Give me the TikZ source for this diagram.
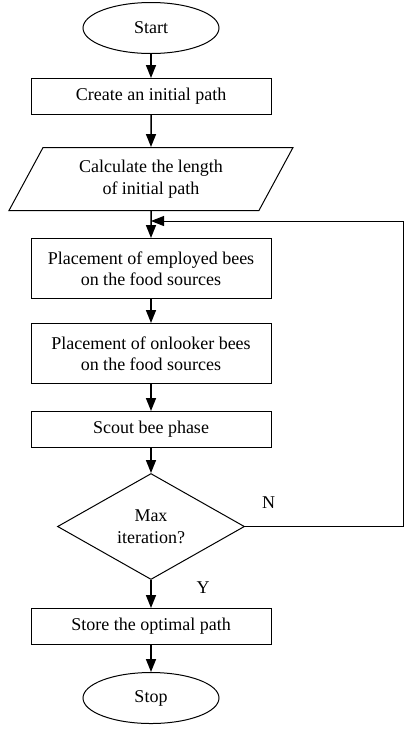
\documentclass[tikz,border=0pt]{standalone}
\usepackage{fontspec}
\setmainfont{Liberation Serif}
\usetikzlibrary{arrows.meta, positioning, shapes.geometric}

\begin{document}
\begin{tikzpicture}[
    x = 1pt, y = -1pt,
    node distance = 27pt,
    every node/.style = {font = \fontsize{18}{21.5}\selectfont},
    box/.style = {
      rectangle, draw, line width = 1pt,
      minimum width = 240pt, minimum height = 36pt,
      inner sep = 2pt, align = center
    },
    tallbox/.style = {box, minimum height = 60pt},
    term/.style = {
      ellipse, draw, line width = 1pt,
      minimum width = 136pt, minimum height = 51pt, inner sep = 0pt
    },
    io/.style = {
      trapezium, trapezium left angle = 48, trapezium right angle = 132,
      trapezium stretches body, draw, line width = 1pt,
      minimum width = 284pt, minimum height = 63pt,
      inner sep = 0pt, align = center
    },
    decision/.style = {
      diamond, aspect = 2, draw, line width = 1pt,
      minimum width = 187pt, minimum height = 106pt,
      inner sep = 0pt, align = center
    },
    arr/.style  = {-{Triangle[length=13pt, width=10pt]}, line width = 1.5pt},
    back/.style = {arr, line width = 1pt},
    lbl/.style  = {inner sep = 0pt}
  ]
    \useasboundingbox (0,0) rectangle (405,729);

    % -- Nodes --
    \node[term] (start) at (151,28) {Start};
    \node[box, below = 24pt of start]         (init)     {Create an initial path};
    \node[io, below = 32pt of init]           (length)   {Calculate the length\\of initial path};
    \node[tallbox, below = 27pt of length]    (employed) {Placement of employed bees\\on the food sources};
    \node[tallbox, below = 24pt of employed]  (onlooker) {Placement of onlooker bees\\on the food sources};
    \node[box, below = 27pt of onlooker]      (scout)    {Scout bee phase};
    \node[decision, below = 25pt of scout]    (maxit)    {Max\\iteration?};
    \node[box, below = 28pt of maxit]         (store)    {Store the optimal path};
    \node[term, below = 27pt of store]        (stop)     {Stop};

    \coordinate[below = 10pt of length.south] (merge);
    \coordinate (rightside) at (403,0);

    % -- Arrows --
    \draw[arr] (start)    -- (init);
    \draw[arr] (init)     -- (length);
    \draw[arr] (length)   -- (employed);
    \draw[arr] (employed) -- (onlooker);
    \draw[arr] (onlooker) -- (scout);
    \draw[arr] (scout)    -- (maxit);
    \draw[arr] (maxit)    -- node[lbl, pos = 0.27, xshift = 52pt]{Y} (store);
    \draw[arr] (store)    -- (stop);
    \draw[back] (maxit.east) -- node[lbl, pos = 0.15, yshift = 24pt]{N}
      (maxit.east -| rightside) |- (merge);
  \end{tikzpicture}
\end{document}
